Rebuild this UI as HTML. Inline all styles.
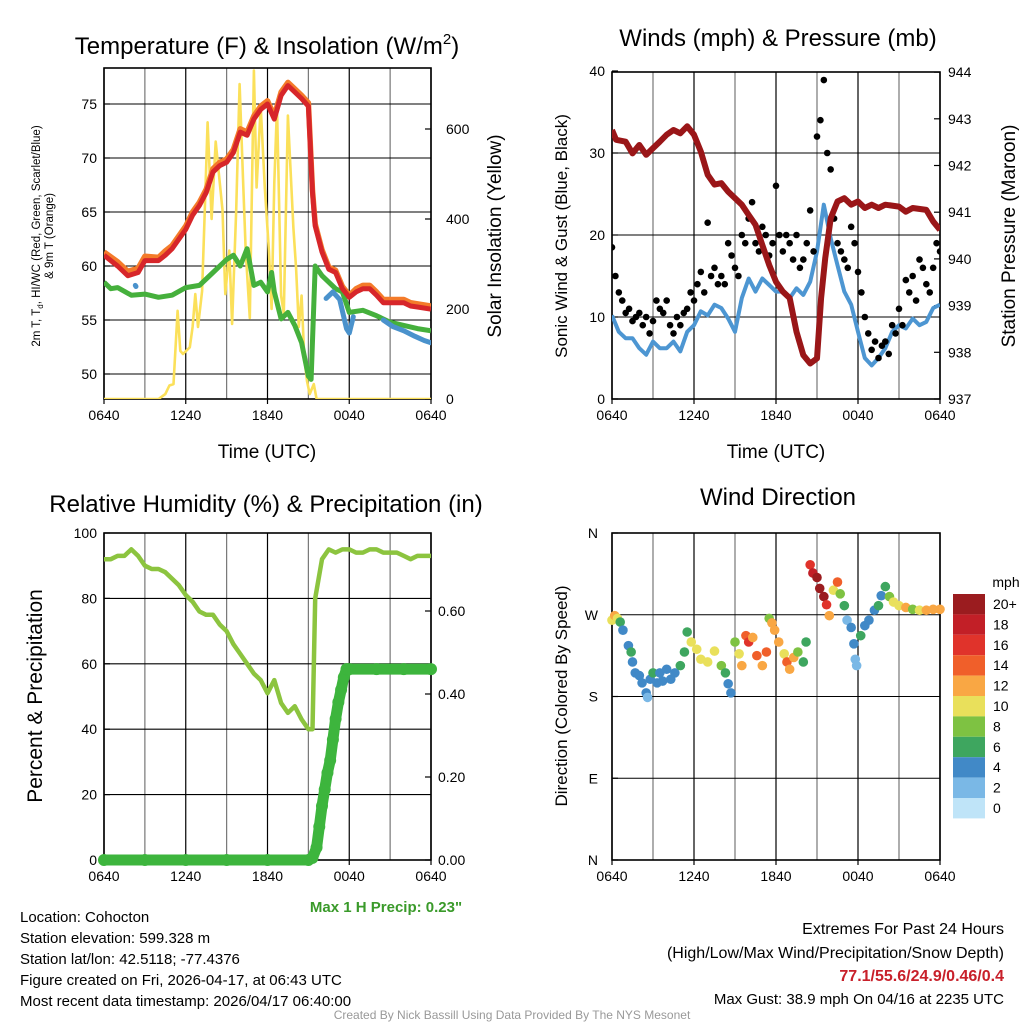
<!DOCTYPE html>
<html><head><meta charset="utf-8">
<style>
html,body{margin:0;padding:0;background:#fff;}
svg{display:block;font-family:"Liberation Sans",Arial,sans-serif;}
</style></head>
<body>
<svg id="chart" width="1024" height="1024" viewBox="0 0 1024 1024" xmlns="http://www.w3.org/2000/svg">
<defs>
<clipPath id="c1"><rect x="104" y="68" width="327" height="331"/></clipPath>
<clipPath id="c2"><rect x="612" y="72" width="328" height="327"/></clipPath>
<clipPath id="c3"><rect x="98" y="527" width="340" height="340"/></clipPath>
<clipPath id="c4"><rect x="606" y="527" width="340" height="340"/></clipPath>
</defs>
<g id="texts" font-size="14" fill="#000">
<text x="267" y="54" font-size="24" text-anchor="middle">Temperature (F) &amp; Insolation (W/m<tspan dy="-10" font-size="15">2</tspan><tspan dy="10">)</tspan></text>
<text x="778" y="46" font-size="24" text-anchor="middle">Winds (mph) &amp; Pressure (mb)</text>
<text x="266" y="512" font-size="24" text-anchor="middle">Relative Humidity (%) &amp; Precipitation (in)</text>
<text x="778" y="505" font-size="24" text-anchor="middle">Wind Direction</text>
<text x="267" y="458" font-size="19" text-anchor="middle">Time (UTC)</text>
<text x="776" y="458" font-size="19" text-anchor="middle">Time (UTC)</text>
<text transform="translate(40,236) rotate(-90)" font-size="11.5" text-anchor="middle">2m T, T<tspan dy="3" font-size="8">d</tspan><tspan dy="-3">, HI/WC (Red, Green, Scarlet/Blue)</tspan></text>
<text transform="translate(53,236) rotate(-90)" font-size="11.5" text-anchor="middle">&amp; 9m T (Orange)</text>
<text transform="translate(501,236) rotate(-90)" font-size="19" text-anchor="middle">Solar Insolation (Yellow)</text>
<text transform="translate(567,236) rotate(-90)" font-size="17" text-anchor="middle">Sonic Wind &amp; Gust (Blue, Black)</text>
<text transform="translate(1015,236) rotate(-90)" font-size="19" text-anchor="middle">Station Pressure (Maroon)</text>
<text transform="translate(42,696) rotate(-90)" font-size="21" text-anchor="middle">Percent &amp; Precipitation</text>
<text transform="translate(567,696) rotate(-90)" font-size="17" text-anchor="middle">Direction (Colored By Speed)</text>
<text x="386" y="912" font-size="15" font-weight="bold" fill="#3a9a2a" text-anchor="middle">Max 1 H Precip: 0.23"</text>
<text x="1006" y="587" font-size="14" text-anchor="middle">mph</text>
<g font-size="15">
<text x="20" y="922">Location: Cohocton</text>
<text x="20" y="943">Station elevation: 599.328 m</text>
<text x="20" y="964">Station lat/lon: 42.5118; -77.4376</text>
<text x="20" y="985">Figure created on Fri, 2026-04-17, at 06:43 UTC</text>
<text x="20" y="1006">Most recent data timestamp: 2026/04/17 06:40:00</text>
<text x="1004" y="934" text-anchor="end" font-size="16">Extremes For Past 24 Hours</text>
<text x="1004" y="958" text-anchor="end" font-size="16">(High/Low/Max Wind/Precipitation/Snow Depth)</text>
<text x="1004" y="981" text-anchor="end" font-size="16" font-weight="bold" fill="#c8202a">77.1/55.6/24.9/0.46/0.4</text>
<text x="1004" y="1004" text-anchor="end">Max Gust: 38.9 mph On 04/16 at 2235 UTC</text>
</g>
<text x="512" y="1019" font-size="12" fill="#999" text-anchor="middle">Created By Nick Bassill Using Data Provided By The NYS Mesonet</text>
</g>
</svg>
<script>
// ---------- Data ----------
const xTickLabels = ["0640","1240","1840","0040","0640"];
const xTickHours = [0,6,12,18,24];
const tempTicks = [50,55,60,65,70,75];
const solarTicks = [0,200,400,600];
const windTicks = [0,10,20,30,40];
const pressTicks = [937,938,939,940,941,942,943,944];
const rhTicks = [0,20,40,60,80,100];
const precipTicks = [0,0.2,0.4,0.6];
const precipTickLabels = ["0.00","0.20","0.40","0.60"];
const dirTicks = [0,90,180,270,360];
const dirTickLabels = ["N","E","S","W","N"];

const tempHours = [0,1,1.75,2.5,3,4,4.5,5,6,6.5,7,7.5,8,8.5,9,9.5,10,10.5,11,11.5,12,12.5,13,13.5,14,14.5,15,15.3,15.5,16,16.5,17,17.5,18,18.5,19,19.5,20,20.5,21,22,22.5,23,24];
const tempRed = [61.0,60.0,59.1,59.4,60.5,60.5,61.0,61.6,63.4,64.7,65.6,66.8,68.7,69.3,69.6,70.5,72.4,72.1,73.6,74.5,75.0,73.6,75.8,76.7,76.1,75.5,74.8,66.8,63.7,61.3,59.7,59.4,57.9,57.1,57.6,57.9,57.9,57.3,56.6,56.6,56.6,56.3,56.2,56.0];
const tempOrange = [61.3,60.4,59.5,59.8,60.9,60.8,61.4,61.9,63.7,65.0,65.9,67.1,69.0,69.6,69.9,70.8,72.7,72.4,73.9,74.8,75.3,73.9,76.1,77.0,76.4,75.8,75.1,67.0,63.9,61.5,59.9,59.6,58.1,57.3,57.9,58.2,58.2,57.6,56.9,56.9,56.9,56.6,56.5,56.3];
const dewHours = [0,0.5,1,2,3,4,5,6,7,8,9,9.5,10,10.5,11,11.5,12,12.3,12.5,13,13.5,14,14.5,15,15.2,15.5,16,17,17.5,18,19,20,21,22,23,24];
const dewValues = [58.5,57.9,58.0,57.3,57.4,57.1,57.3,58.0,58.2,59.4,60.6,61.0,60.0,61.6,58.2,58.5,57.6,59.4,57.6,55.1,55.7,54.5,52.9,49.8,49.5,60.0,59.1,57.9,57.6,55.7,55.9,55.4,54.8,54.5,54.2,54.0];
const hiwcSegHours = [[2.3,2.35],[16.3,16.8,17.3,17.8,18.0,18.3],[20.5,21.2,22,22.8,23.5,24]];
const hiwcSegValues = [[58.2,58.1],[57.0,57.6,56.9,54.2,53.8,55.3],[55.0,54.4,54.0,53.5,53.1,52.9]];
const solarHours = [0,4,4.5,4.8,5.1,5.4,5.6,5.8,6.3,6.5,6.7,6.9,7.2,7.4,7.6,7.9,8.2,8.5,8.7,8.9,9.2,9.4,9.7,9.95,10.2,10.4,10.7,11.0,11.2,11.5,11.8,12.1,12.3,12.5,12.7,13.0,13.2,13.5,13.9,14.1,14.3,14.5,14.7,14.9,15.1,15.4,15.6,24];
const solarValues = [0,0,11,30,33,196,107,100,115,160,233,160,240,420,615,400,572,480,420,233,330,167,420,700,490,330,180,730,470,650,470,330,200,480,650,230,190,630,380,290,160,230,90,40,11,33,0,0];

const pHours = [0,0.3,1,1.5,2,2.5,3,3.5,4,4.5,5,5.5,6,6.5,7,7.5,8,8.5,9,9.5,10,10.5,11,11.5,12,12.5,13,13.5,14,14.5,15,15.3,15.6,16,16.5,17,17.5,18,18.5,19,19.5,20,21,21.5,22,23,23.5,24];
const pValues = [942.76,942.55,942.51,942.26,942.44,942.23,942.37,942.51,942.66,942.76,942.69,942.84,942.66,942.30,941.80,941.59,941.62,941.44,941.30,941.16,940.94,940.73,940.30,939.87,939.51,939.30,939.16,938.44,937.94,937.76,937.87,939.16,940.01,940.87,941.23,941.30,941.16,941.23,941.09,941.16,941.09,941.16,941.12,941.01,941.09,941.05,940.80,940.62];
const windHours = [0,0.5,1,1.5,2,2.5,3,3.5,4,4.5,5,5.5,6,6.5,7,7.5,8,8.5,9,9.5,10,10.5,11,11.5,12,12.5,13,13.5,14,14.5,15,15.5,16,16.5,17,17.5,18,18.5,19,19.5,20,20.5,21,21.5,22,22.5,23,23.5,24];
const windValues = [10.2,8.2,7.4,7.4,6.2,5.4,7.0,6.2,6.2,7.0,5.8,8.2,9.0,10.7,10.2,11.5,11.1,9.8,8.2,12.3,14.7,13.1,14.7,13.9,13.1,13.1,12.3,13.5,12.7,14.3,18.0,23.7,19.6,16.3,13.1,11.5,8.2,5.0,4.1,5.0,6.2,8.2,9.0,8.6,9.8,9.0,9.4,11.1,11.5];
const gustValues = [18.5,15,13,12,10.5,11,9.5,10,10.5,9,10,8,9.5,
12,11,10.5,12,9,8,10,9,10.5,11,13,12,
14,15.5,13,21.5,15,16,14,15,14,19,17.5,
16,15,20,19,22,24,19,18,21,20,17.5,19,
26,20,18,20,19,17,20,16,17,19,23,18,
32,34,38.9,30,28,22,19,18,17,16,21,19,
15.5,13,10,8,6,7,5,6.5,7,5.5,9,8,
11,9,14.5,13,15,12,17,16,14,13,16,19,18];
const gustStepHours = 0.25;

const rhHours = [0,0.5,1,1.5,2,2.5,3,3.5,4,4.5,5,5.5,6,6.5,7,7.5,8,8.5,9,9.5,10,10.5,11,11.5,12,12.5,13,13.5,14,14.5,15,15.3,15.5,16,16.5,17,17.5,18,18.5,19,19.5,20,20.5,21,21.5,22,22.5,23,23.5,24];
const rhValues = [92,92,93,93,95,93,90,89,89,88,86,84,81,79,76,75,75,72,70,66,63,60,57,55,51,55,48,45,47,43,40,40,80,92,95,94,95,95,94,94,95,95,94,94,94,93,92,93,93,93];
const precipHours = [0,3,6,9,12,15,15.3,15.6,15.8,16,16.2,16.4,16.6,16.8,17,17.2,17.4,17.6,17.8,18,20,22,24];
const precipValues = [0,0,0,0,0,0,0.005,0.03,0.08,0.13,0.17,0.21,0.24,0.29,0.34,0.38,0.41,0.44,0.46,0.46,0.46,0.46,0.46];

const dirHours = [0,0.2,0.4,0.6,0.8,1.2,1.4,1.5,1.7,2,2.2,2.5,2.6,2.8,3,3.3,3.5,3.7,4,4.3,4.6,5,5.3,5.5,5.8,6.2,6.5,7,7.5,8,8.3,8.5,8.7,9,9.3,9.5,9.8,10,10.3,10.6,11,11.3,11.5,11.7,11.9,12.2,12.6,12.8,13,13.3,13.6,14,14.2,14.5,14.7,15,15.2,15.5,15.7,15.9,16.2,16.5,16.7,17,17.2,17.5,17.7,17.8,17.9,18.2,18.5,18.8,19.2,19.5,19.7,20,20.3,20.6,21,21.5,22,22.5,23,23.5,24];
const dirValues = [264,269,266,262,253,236,229,218,206,203,195,184,179,199,206,195,206,197,210,199,206,214,229,251,240,232,221,218,230,214,206,194,184,240,227,214,247,240,245,225,214,229,266,261,253,240,227,218,210,223,229,218,240,325,316,311,299,290,281,269,297,306,293,280,264,256,238,221,214,247,258,264,275,280,291,301,290,284,280,278,276,275,275,276,276];
const dirSpeeds = [10,12,10,7,5.5,5.5,7,5.5,5.5,5.5,5,4,3.5,5,6,5,4.5,5.5,5.5,4.5,5.5,6,7,7,10,11,10,11,10,9,6,5,5,9,10,12,15,17,12,14,13,15,9,12,12,13,10,14,12,13,9,7,7,16,19,20,21,20,16,12,10,14,8,6,3,5,4,3,2,6,4,4,4,6,4,7,9,10,11,12,9,11,12,12,12];
const cbLabels = ["20+","18","16","14","12","10","8","6","4","2","0"];
const cbColors = ["#9b1c1f","#c21f27","#e0332b","#f05f2a","#f9a744","#e9e05b","#7ec242","#3ea65f","#4189c7","#7ab8e6","#bfe4f8"];

// ---------- Helpers ----------
const NS = "http://www.w3.org/2000/svg";
const svg = document.getElementById("chart");
function mk(tag, attrs, parent){
  const e = document.createElementNS(NS, tag);
  for (const k in attrs) e.setAttribute(k, attrs[k]);
  (parent || svg).appendChild(e);
  return e;
}
function grp(name, clip){
  const g = mk("g", clip ? {"clip-path":"url(#"+clip+")"} : {});
  
  
  return g;
}
function path(xs, ys, xf, yf){
  return xs.map((t,i)=>(i?"L":"M")+xf(t).toFixed(1)+","+yf(ys[i]).toFixed(1)).join("");
}

// axis functions
const x1 = t => 104 + t/24*327;
const yT = v => 374 - (v-50)*10.8;
const yS = v => 399 - v*0.45;
const x2 = t => 612 + t/24*328;
const yW = v => 399 - v*8.2;
const yP = v => 399 - (v-937)*46.7;
const yRH = v => 860 - v*3.27;
const yPr = v => 860 - v*415;
const yD = v => 860 - v*(327/360);

function frame(name, L, T, R, B, hLines, xf){
  const g = grp(name);
  for (let h=0; h<=24; h+=3){
    const gl = mk("line",{x1:xf(h),x2:xf(h),y1:T,y2:B,stroke:(h%6===0)?"#000":"#777","stroke-width":1.2},g);
    
    
  }
  hLines.forEach(y=>{
    const hl = mk("line",{x1:L,x2:R,y1:y,y2:y,stroke:"#000","stroke-width":1.1},g);
    
    
  });
  const bx = mk("rect",{x:L,y:T,width:R-L,height:B-T,fill:"none",stroke:"#000","stroke-width":1.6},g);
  
  
  xTickHours.forEach((h,i)=>{
    const tk = mk("line",{x1:xf(h),x2:xf(h),y1:B,y2:B+5,stroke:"#000","stroke-width":1.2},g);
    
    
    const tl = mk("text",{x:xf(h),y:B+21,"font-size":14,"text-anchor":"middle"},g);
    tl.textContent = xTickLabels[i];
    
    
  });
  return g;
}
function yLabels(name, vals, labels, yf, x, anchor, axisX){
  const g = grp(name);
  vals.forEach((v,i)=>{
    const t = mk("text",{x:x,y:yf(v)+5,"font-size":14,"text-anchor":anchor},g);
    t.textContent = labels[i];
    
    
    const dir = anchor==="end" ? 1 : -1;
    const tk = mk("line",{x1:axisX,x2:axisX+dir*6,y1:yf(v),y2:yf(v),stroke:"#000","stroke-width":1.2},g);
    
    
  });
}

// ---------- Panel 1 ----------
frame("temp-panel-frame",104,68,431,399,tempTicks.map(yT),x1);
yLabels("temp-y-axis",tempTicks,tempTicks.map(String),yT,97,"end",104);
yLabels("solar-y-axis",solarTicks,solarTicks.map(String),yS,446,"start",431);
const g1 = grp("temp-series","c1");
let e;
e = mk("path",{d:path(solarHours,solarValues,x1,yS),fill:"none",stroke:"#fbe05a","stroke-width":2.6,"stroke-linejoin":"round"},g1);


e = mk("path",{d:path(dewHours,dewValues,x1,yT),fill:"none",stroke:"#45b03c","stroke-width":5,"stroke-linejoin":"round"},g1);


hiwcSegHours.forEach((hs,i)=>{
  const s = mk("path",{d:path(hs,hiwcSegValues[i],x1,yT),fill:"none",stroke:"#4a92cc","stroke-width":5,"stroke-linecap":"round","stroke-linejoin":"round"},g1);
  
  
});
e = mk("path",{d:path(tempHours,tempOrange,x1,yT),fill:"none",stroke:"#f47b2a","stroke-width":5.5,"stroke-linejoin":"round"},g1);


e = mk("path",{d:path(tempHours,tempRed,x1,yT),fill:"none",stroke:"#d7262a","stroke-width":5,"stroke-linejoin":"round"},g1);



// ---------- Panel 2 ----------
frame("wind-panel-frame",612,72,940,399,[10,20,30].map(yW),x2);
yLabels("wind-y-axis",windTicks,windTicks.map(String),yW,605,"end",612);
yLabels("pressure-y-axis",pressTicks,pressTicks.map(String),yP,948,"start",940);
const g2 = grp("wind-series","c2");
e = mk("path",{d:path(windHours,windValues,x2,yW),fill:"none",stroke:"#4d96d2","stroke-width":4,"stroke-linejoin":"round"},g2);


gustValues.forEach((v,i)=>{
  const c = mk("circle",{cx:x2(i*gustStepHours),cy:yW(v),r:3.3,fill:"#000"},g2);
  
  
});
e = mk("path",{d:path(pHours,pValues,x2,yP),fill:"none",stroke:"#9a1618","stroke-width":6,"stroke-linejoin":"round"},g2);



// ---------- Panel 3 ----------
frame("rh-panel-frame",104,533,431,860,[20,40,60,80].map(yRH),x1);
yLabels("rh-y-axis",rhTicks,rhTicks.map(String),yRH,97,"end",104);
yLabels("precip-y-axis",precipTicks,precipTickLabels,yPr,438,"start",431);
const g3 = grp("rh-series","c3");
e = mk("path",{d:path(rhHours,rhValues,x1,yRH),fill:"none",stroke:"#8cc43f","stroke-width":4.5,"stroke-linejoin":"round"},g3);


e = mk("path",{d:path(precipHours,precipValues,x1,yPr),fill:"none",stroke:"#3db53d","stroke-width":11,"stroke-linecap":"round","stroke-linejoin":"round"},g3);


precipHours.forEach((h,i)=>{
  const c = mk("circle",{cx:x1(h),cy:yPr(precipValues[i]),r:6,fill:"#3db53d"},g3);
  
  
});

// ---------- Panel 4 ----------
frame("direction-panel-frame",612,533,940,860,[90,180,270].map(yD),x2);
yLabels("direction-y-axis",dirTicks,dirTickLabels,yD,598,"end",612);
const g4 = grp("direction-series","c4");
dirHours.forEach((h,i)=>{
  const idx = Math.min(10, Math.floor(dirSpeeds[i]/2));
  const c = mk("circle",{cx:x2(h),cy:yD(dirValues[i]),r:4.8,fill:cbColors[10-idx]},g4);
  
  
});
const gcb = grp("speed-colorbar");
cbColors.forEach((col,i)=>{
  const r = mk("rect",{x:953,y:594+i*20.4,width:32,height:20.4,fill:col},gcb);
  
  
  const t = mk("text",{x:993,y:594+i*20.4+15,"font-size":14},gcb);
  t.textContent = cbLabels[i];
  
  
});
</script>
</body></html>
